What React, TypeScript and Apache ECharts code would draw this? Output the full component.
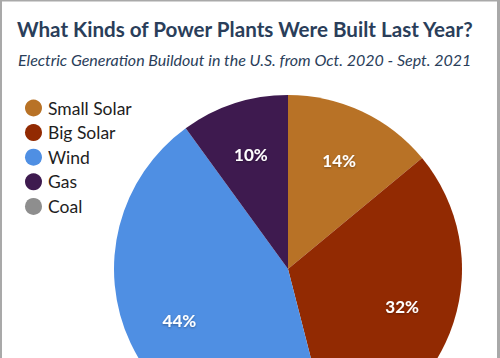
import React, { useEffect, useRef } from "react";
import * as echarts from "echarts";

const categories = ["Small Solar", "Big Solar", "Wind", "Gas", "Coal"];
const shares = [14, 32, 44, 10, 0];
const colors = ["#b87226", "#922a02", "#4f8fe3", "#3e1a4f", "#8e8e8e"];

const titleText = "What Kinds of Power Plants Were Built Last Year?";
const subtitleText = "Electric Generation Buildout in the U.S. from Oct. 2020 - Sept. 2021";

export default function App() {
  const ref = useRef<HTMLDivElement>(null);
  useEffect(() => {
    document.body.style.margin = "0";
    const chart = echarts.init(ref.current!, null, { renderer: "svg" });
    const data = categories.map((name, i) => ({
      name,
      value: shares[i],
      itemStyle: { color: colors[i] },
    }));
    chart.setOption({
      animation: false,
      backgroundColor: "#ffffff",
      title: [
        {
          text: titleText,
          left: 12,
          top: 13,
          textStyle: {
            fontFamily: "Lato",
            fontWeight: "bold",
            fontSize: 20.6,
            color: "#2a3e5a",
          },
        },
        {
          text: subtitleText,
          left: 13,
          top: 46,
          textStyle: {
            fontFamily: "Lato",
            fontStyle: "italic",
            fontWeight: "normal",
            fontSize: 16,
            color: "#2a3e5a",
          },
        },
      ],
      legend: {
        orient: "vertical",
        left: 20,
        top: 94,
        icon: "circle",
        itemWidth: 17,
        itemHeight: 17,
        itemGap: 6.6,
        data: categories,
        textStyle: {
          fontFamily: "Lato",
          fontSize: 17.5,
          color: "#1e1e1e",
          padding: [0, 0, 0, 1],
        },
      },
      graphic: [
        { type: "rect", shape: { x: 0, y: 0, width: 2, height: 358 }, style: { fill: "#a9a9a9" } },
        { type: "rect", shape: { x: 0, y: 0, width: 500, height: 1.5 }, style: { fill: "#a9a9a9" } },
        { type: "rect", shape: { x: 497, y: 0, width: 3, height: 358 }, style: { fill: "#a9a9a9" } },
      ],
      series: [
        {
          type: "pie",
          center: [288, 269],
          radius: [0, 174],
          startAngle: 90,
          clockwise: true,
          data,
          label: { show: false },
          labelLine: { show: false },
          emphasis: { disabled: true },
        },
        {
          type: "pie",
          center: [288, 269],
          radius: [60, 174],
          startAngle: 90,
          clockwise: true,
          silent: true,
          legendHoverLink: false,
          data: categories.map((name, i) => ({
            name,
            value: shares[i],
            itemStyle: { color: "rgba(0,0,0,0)" },
            label: { show: shares[i] > 0 },
          })),
          label: {
            position: "inside",
            formatter: (p: any) => `${p.value}%`,
            fontFamily: "Lato",
            fontWeight: "bold",
            fontSize: 17,
            color: "#ffffff",
            textShadowColor: "rgba(0,0,0,0.35)",
            textShadowBlur: 2,
            textShadowOffsetY: 1,
          },
          labelLine: { show: false },
          emphasis: { disabled: true },
        },
      ],
    });
    return () => chart.dispose();
  }, []);
  return (
    <div
      ref={ref}
      style={{ position: "absolute", left: 0, top: 0, width: 500, height: 358 }}
    />
  );
}
